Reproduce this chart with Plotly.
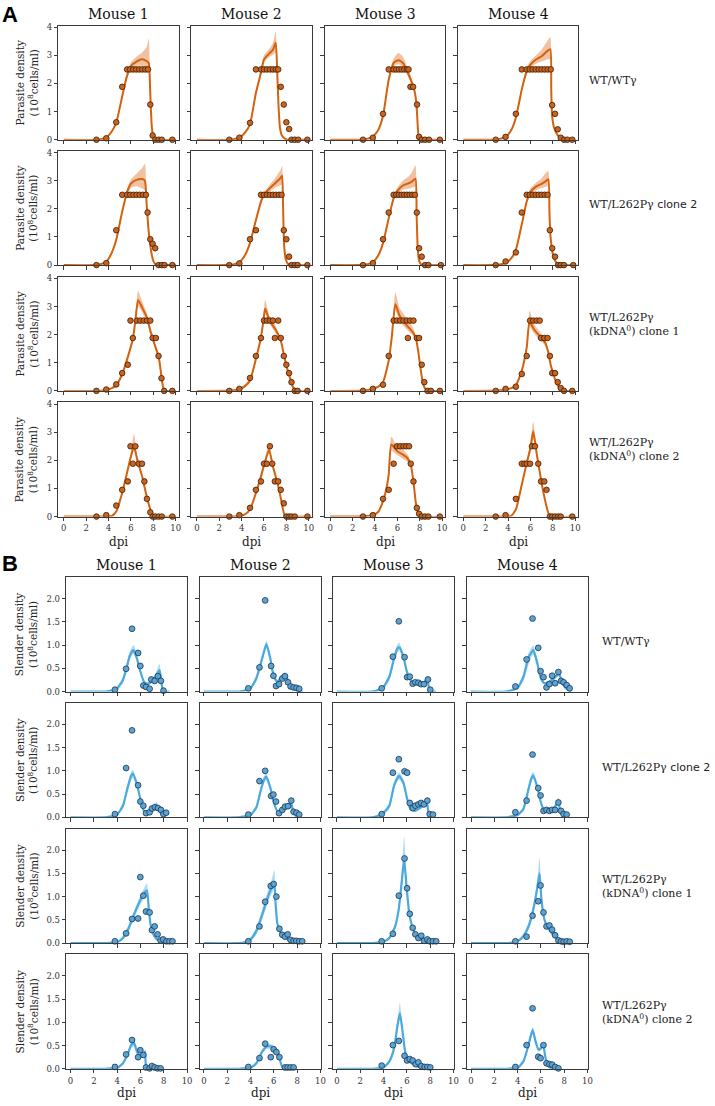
import plotly.graph_objects as go

W, H = 715, 1106

mice = ["Mouse 1", "Mouse 2", "Mouse 3", "Mouse 4"]
row_labels = [
    "WT/WTγ",
    "WT/L262Pγ <span style=\"font-family:'DejaVu Sans'\">clone 2</span>",
    "WT/L262Pγ<br>(kDNA<sup>0</sup>) clone 1",
    "WT/L262Pγ<br>(kDNA<sup>0</sup>) clone 2",
]
x_ticks = [0, 2, 4, 6, 8, 10]
A_y_ticks = [0, 1, 2, 3, 4]
B_y_ticks = [0.0, 0.5, 1.0, 1.5, 2.0]

# ---------------- Panel A: parasite density (observations) ----------------
A_obs_t = [
    [2.92, 3.8, 4.69, 5.22, 5.66, 5.93, 6.2, 6.47, 6.74, 7.01, 7.28, 7.52, 7.73, 7.94, 8.17, 8.47, 8.76, 9.7],
    [2.9, 3.8, 4.75, 5.28, 5.73, 6.0, 6.26, 6.53, 6.8, 7.06, 7.27, 7.5, 7.77, 8.0, 8.25, 8.46, 8.75, 9.05, 9.88],
    [2.93, 3.81, 4.72, 5.23, 5.67, 5.9, 6.14, 6.38, 6.61, 6.85, 7.0, 7.17, 7.41, 7.76, 7.94, 8.18, 8.47, 8.83, 9.8],
    [2.9, 3.78, 4.7, 5.23, 5.67, 5.94, 6.2, 6.47, 6.74, 7.0, 7.27, 7.55, 7.82, 7.94, 8.2, 8.44, 8.71, 9.0, 9.3, 9.74],
    [2.92, 3.8, 4.69, 5.22, 5.66, 5.94, 6.22, 6.5, 6.78, 7.06, 7.34, 7.49, 7.73, 7.94, 8.17, 8.47, 8.76, 9.0, 9.7],
    [2.9, 3.8, 4.75, 5.28, 5.73, 6.0, 6.26, 6.53, 6.8, 7.06, 7.33, 7.57, 7.77, 8.0, 8.24, 8.46, 8.75, 9.0, 9.88],
    [2.93, 3.81, 4.72, 5.23, 5.67, 5.9, 6.14, 6.38, 6.61, 6.85, 7.09, 7.33, 7.56, 7.74, 7.94, 8.18, 8.47, 8.77, 9.89],
    [2.9, 3.78, 4.7, 5.23, 5.67, 5.94, 6.2, 6.47, 6.74, 7.0, 7.27, 7.53, 7.74, 7.95, 8.2, 8.47, 8.71, 9.0, 9.83],
    [2.92, 3.8, 4.69, 5.22, 5.72, 5.96, 6.17, 6.55, 6.84, 7.14, 7.43, 7.73, 7.94, 8.23, 8.47, 8.73, 8.97, 9.7],
    [2.9, 3.8, 4.75, 5.28, 5.73, 6.0, 6.26, 6.53, 6.8, 6.97, 7.27, 7.5, 7.77, 8.0, 8.24, 8.46, 8.75, 9.0, 9.88],
    [2.93, 3.81, 4.72, 5.23, 5.67, 5.96, 6.26, 6.55, 6.85, 6.94, 7.14, 7.44, 7.74, 7.94, 8.18, 8.41, 8.7, 9.0, 9.8],
    [2.9, 3.78, 4.7, 5.23, 5.67, 5.97, 6.26, 6.56, 6.83, 6.95, 7.24, 7.53, 7.74, 7.95, 8.2, 8.44, 8.71, 9.0, 9.74],
    [2.92, 3.8, 4.69, 5.22, 5.72, 5.96, 6.17, 6.4, 6.7, 6.99, 7.2, 7.43, 7.73, 7.94, 8.17, 8.47, 8.76, 9.7],
    [2.9, 3.8, 4.75, 5.28, 5.73, 6.0, 6.26, 6.53, 6.74, 6.97, 7.27, 7.5, 7.77, 8.0, 8.24, 8.46, 8.75, 9.88],
    [2.93, 3.81, 4.72, 5.23, 5.67, 5.96, 6.26, 6.55, 6.79, 7.05, 7.2, 7.44, 7.74, 7.94, 8.18, 8.47, 8.77, 9.8],
    [2.9, 3.78, 4.7, 5.23, 5.47, 5.67, 5.97, 6.14, 6.41, 6.7, 6.95, 7.24, 7.44, 7.74, 7.95, 8.2, 8.47, 8.71, 9.74],
]
A_obs_v = [
    [0, 0.05, 0.62, 1.88, 2.5, 2.5, 2.5, 2.5, 2.5, 2.5, 2.5, 2.5, 1.25, 0.15, 0, 0, 0, 0],
    [0, 0.07, 0.6, 2.5, 2.5, 2.5, 2.5, 2.5, 2.5, 2.5, 2.5, 1.88, 1.25, 0.62, 0.38, 0, 0, 0, 0],
    [0, 0.07, 0.92, 2.5, 2.5, 2.5, 2.5, 2.5, 2.5, 2.5, 2.5, 1.88, 1.88, 1.25, 0.1, 0, 0, 0, 0],
    [0, 0.1, 0.92, 2.5, 2.5, 2.5, 2.5, 2.5, 2.5, 2.5, 2.5, 2.5, 2.5, 1.23, 0.92, 0.37, 0.07, 0, 0, 0],
    [0, 0.07, 1.24, 2.5, 2.5, 2.5, 2.5, 2.5, 2.5, 2.5, 2.5, 1.87, 0.92, 0.76, 0.6, 0, 0, 0, 0],
    [0, 0.06, 0.92, 1.24, 2.5, 2.5, 2.5, 2.5, 2.5, 2.5, 2.5, 2.5, 1.24, 0.92, 0.3, 0, 0, 0, 0],
    [0, 0.07, 0.92, 1.87, 2.5, 2.5, 2.5, 2.5, 2.5, 2.5, 2.5, 2.5, 2.5, 1.87, 0.6, 0.3, 0, 0, 0],
    [0, 0.13, 0.45, 1.87, 2.5, 2.5, 2.5, 2.5, 2.5, 2.5, 2.5, 2.5, 1.24, 0.6, 0.3, 0, 0, 0, 0],
    [0, 0.05, 0.23, 0.63, 0.93, 2.5, 1.88, 2.5, 2.5, 2.5, 2.5, 2.5, 1.88, 1.88, 1.24, 0.45, 0, 0],
    [0, 0.07, 0.46, 1.24, 1.88, 2.5, 2.5, 2.5, 2.5, 1.88, 2.5, 1.88, 1.24, 0.93, 0.63, 0.31, 0, 0, 0],
    [0, 0.07, 0.22, 1.24, 2.5, 2.5, 2.5, 2.5, 2.5, 1.88, 2.5, 2.5, 1.88, 1.88, 0.93, 0.31, 0, 0, 0],
    [0, 0.07, 0.15, 0.6, 1.24, 2.5, 2.5, 2.5, 2.5, 1.88, 1.88, 1.88, 1.24, 0.63, 0.63, 0.31, 0.1, 0, 0],
    [0, 0.05, 0.39, 0.95, 1.25, 2.5, 1.88, 2.5, 1.88, 1.88, 1.25, 0.63, 0.15, 0, 0, 0, 0, 0],
    [0, 0.05, 0.31, 0.95, 1.25, 1.88, 1.88, 2.5, 1.88, 1.25, 1.25, 0.95, 0.47, 0, 0, 0, 0, 0],
    [0, 0.05, 0.63, 0.95, 1.88, 2.5, 2.5, 2.5, 2.5, 2.5, 1.88, 1.25, 0.31, 0.1, 0, 0, 0, 0],
    [0, 0.05, 0.63, 1.88, 1.88, 1.88, 1.88, 2.5, 2.5, 1.88, 1.25, 1.25, 0.95, 0, 0, 0, 0, 0, 0],
]

# ---------------- Panel A: model fit (median and credible band) ----------------
A_fit_t = [
    [0, 3.0, 3.8, 4.3, 4.7, 5.2, 5.6, 6.0, 6.5, 7.0, 7.4, 7.6, 7.7, 7.78, 7.88, 8.0, 8.2, 10],
    [0, 3.0, 3.8, 4.3, 4.75, 5.28, 5.73, 6.0, 6.5, 6.8, 7.05, 7.2, 7.3, 7.42, 7.6, 7.9, 8.2, 10],
    [0, 3.0, 3.8, 4.3, 4.72, 5.23, 5.67, 6.1, 6.5, 7.0, 7.5, 7.7, 7.82, 7.9, 8.0, 8.2, 10],
    [0, 3.0, 3.8, 4.3, 4.7, 5.23, 5.67, 6.0, 6.5, 7.0, 7.5, 7.78, 7.86, 7.93, 8.1, 8.4, 8.8, 9.2, 10],
    [0, 3.0, 3.8, 4.3, 4.69, 5.22, 5.66, 6.0, 6.5, 7.0, 7.25, 7.4, 7.55, 7.7, 7.85, 8.0, 8.2, 10],
    [0, 3.0, 3.8, 4.3, 4.75, 5.28, 5.73, 6.0, 6.5, 7.0, 7.5, 7.62, 7.72, 7.8, 7.95, 8.2, 10],
    [0, 3.0, 3.8, 4.3, 4.72, 5.23, 5.67, 6.0, 6.5, 7.0, 7.3, 7.62, 7.72, 7.82, 7.95, 8.15, 10],
    [0, 3.0, 3.8, 4.3, 4.7, 5.23, 5.67, 6.0, 6.5, 7.0, 7.3, 7.6, 7.7, 7.78, 7.88, 8.0, 8.2, 8.5, 10],
    [0, 3.0, 3.8, 4.3, 4.69, 5.22, 5.72, 6.2, 6.42, 6.64, 7.0, 7.43, 7.73, 8.0, 8.2, 8.47, 8.6, 8.73, 8.88, 9.05, 10],
    [0, 3.0, 3.8, 4.3, 4.75, 5.28, 5.73, 5.95, 6.1, 6.5, 7.0, 7.5, 7.77, 8.0, 8.3, 8.6, 9.0, 10],
    [0, 3.0, 3.8, 4.3, 4.72, 5.23, 5.5, 5.82, 6.2, 6.6, 7.0, 7.4, 7.7, 7.9, 8.1, 8.3, 8.6, 10],
    [0, 3.0, 3.8, 4.3, 4.7, 5.23, 5.67, 5.92, 6.3, 6.8, 7.3, 7.6, 7.8, 8.0, 8.3, 8.6, 9.0, 10],
    [0, 3.0, 4.0, 4.3, 4.7, 5.22, 5.72, 6.0, 6.27, 6.6, 7.0, 7.3, 7.6, 7.9, 8.2, 10],
    [0, 3.0, 3.8, 4.3, 4.75, 5.28, 5.73, 6.1, 6.45, 6.8, 7.2, 7.5, 7.7, 7.85, 8.0, 10],
    [0, 3.0, 3.8, 4.3, 4.72, 5.0, 5.23, 5.46, 6.0, 6.5, 6.9, 7.2, 7.45, 7.65, 7.85, 8.1, 10],
    [0, 3.0, 4.0, 4.3, 4.7, 5.23, 5.67, 6.0, 6.25, 6.6, 7.0, 7.3, 7.6, 7.8, 10],
]
A_fit_mid = [
    [0, 0.0, 0.08, 0.3, 0.62, 1.5, 2.2, 2.62, 2.78, 2.86, 2.8, 2.72, 2.0, 1.1, 0.4, 0.1, 0.0, 0],
    [0, 0, 0.07, 0.25, 0.55, 1.67, 2.38, 2.85, 3.08, 3.2, 3.45, 2.2, 1.2, 0.45, 0.15, 0.03, 0, 0],
    [0, 0.01, 0.1, 0.35, 0.84, 2.14, 2.73, 2.83, 2.73, 2.32, 1.79, 1.3, 0.5, 0.1, 0.02, 0, 0],
    [0, 0.01, 0.1, 0.35, 0.78, 1.79, 2.44, 2.67, 2.85, 2.97, 3.15, 3.22, 1.8, 0.9, 0.45, 0.18, 0.03, 0, 0],
    [0, 0.01, 0.12, 0.45, 0.9, 1.9, 2.6, 2.9, 3.03, 3.06, 3.0, 2.2, 1.35, 0.8, 0.4, 0.15, 0.03, 0],
    [0, 0.01, 0.1, 0.35, 0.78, 1.6, 2.26, 2.5, 2.73, 2.91, 3.11, 3.18, 1.8, 0.7, 0.2, 0.02, 0],
    [0, 0.01, 0.1, 0.35, 0.78, 1.67, 2.38, 2.64, 2.83, 2.91, 2.97, 3.07, 1.8, 0.6, 0.15, 0.02, 0],
    [0, 0.01, 0.08, 0.25, 0.54, 1.45, 2.26, 2.6, 2.79, 2.89, 2.96, 3.05, 1.9, 1.1, 0.7, 0.4, 0.15, 0.02, 0],
    [0, 0.0, 0.03, 0.1, 0.19, 0.6, 1.2, 1.9, 2.6, 3.23, 2.97, 2.6, 2.15, 1.8, 1.55, 1.22, 0.9, 0.5, 0.12, 0.01, 0],
    [0, 0.01, 0.06, 0.17, 0.37, 1.14, 1.9, 2.5, 2.93, 2.5, 2.2, 1.79, 1.31, 0.9, 0.49, 0.13, 0, 0],
    [0, 0.01, 0.07, 0.15, 0.31, 1.08, 1.9, 3.09, 2.67, 2.44, 2.26, 2.08, 1.79, 1.31, 0.72, 0.25, 0.03, 0],
    [0, 0.01, 0.05, 0.1, 0.19, 0.72, 1.55, 2.47, 2.2, 1.96, 1.73, 1.37, 0.95, 0.66, 0.31, 0.1, 0, 0],
    [0, 0, 0.0, 0.02, 0.19, 0.84, 1.67, 2.14, 2.5, 1.96, 1.43, 0.9, 0.43, 0.07, 0, 0],
    [0, 0, 0.02, 0.08, 0.25, 0.84, 1.43, 1.96, 2.38, 1.78, 1.2, 0.66, 0.25, 0.03, 0, 0],
    [0, 0.01, 0.05, 0.17, 0.55, 0.95, 1.5, 2.56, 2.32, 2.2, 2.08, 1.85, 1.2, 0.49, 0.13, 0, 0],
    [0, 0, 0.0, 0.03, 0.25, 1.14, 1.9, 2.44, 3.03, 2.14, 1.2, 0.6, 0.13, 0, 0],
]
A_fit_lo = [
    [0, 0.0, 0.06, 0.26, 0.56, 1.42, 2.1, 2.5, 2.62, 2.62, 2.55, 2.5, 1.8, 1.0, 0.35, 0.08, 0.0, 0],
    [0, 0, 0.05, 0.2, 0.48, 1.58, 2.28, 2.75, 2.95, 3.02, 3.1, 2.0, 1.1, 0.4, 0.12, 0.02, 0, 0],
    [0, 0.01, 0.08, 0.3, 0.76, 2.04, 2.6, 2.68, 2.58, 2.2, 1.7, 1.22, 0.45, 0.08, 0.02, 0, 0],
    [0, 0.01, 0.08, 0.3, 0.7, 1.68, 2.32, 2.55, 2.7, 2.78, 2.85, 2.85, 1.6, 0.8, 0.4, 0.15, 0.02, 0, 0],
    [0, 0.01, 0.1, 0.4, 0.82, 1.8, 2.48, 2.75, 2.8, 2.72, 2.65, 2.0, 1.25, 0.74, 0.36, 0.13, 0.02, 0],
    [0, 0.01, 0.08, 0.3, 0.7, 1.5, 2.16, 2.4, 2.6, 2.75, 2.85, 2.85, 1.6, 0.62, 0.17, 0.02, 0],
    [0, 0.01, 0.08, 0.3, 0.7, 1.57, 2.28, 2.52, 2.68, 2.72, 2.75, 2.78, 1.6, 0.54, 0.13, 0.02, 0],
    [0, 0.01, 0.06, 0.21, 0.48, 1.36, 2.16, 2.48, 2.66, 2.74, 2.78, 2.8, 1.75, 1.0, 0.64, 0.36, 0.13, 0.02, 0],
    [0, 0.0, 0.02, 0.08, 0.16, 0.54, 1.12, 1.8, 2.45, 3.0, 2.8, 2.45, 2.02, 1.7, 1.46, 1.14, 0.84, 0.46, 0.1, 0.01, 0],
    [0, 0.01, 0.04, 0.12, 0.3, 1.04, 1.8, 2.38, 2.75, 2.38, 2.08, 1.7, 1.24, 0.85, 0.45, 0.11, 0, 0],
    [0, 0.01, 0.05, 0.12, 0.26, 1.0, 1.8, 2.85, 2.5, 2.28, 2.12, 1.96, 1.7, 1.24, 0.67, 0.22, 0.02, 0],
    [0, 0.01, 0.04, 0.08, 0.15, 0.64, 1.45, 2.3, 2.05, 1.82, 1.62, 1.3, 0.9, 0.62, 0.28, 0.08, 0, 0],
    [0, 0, 0.0, 0.01, 0.15, 0.77, 1.58, 2.04, 2.35, 1.86, 1.35, 0.84, 0.39, 0.05, 0, 0],
    [0, 0, 0.01, 0.06, 0.21, 0.77, 1.35, 1.87, 2.25, 1.7, 1.13, 0.62, 0.22, 0.02, 0, 0],
    [0, 0.01, 0.04, 0.14, 0.49, 0.88, 1.42, 2.35, 2.18, 2.05, 1.95, 1.75, 1.14, 0.45, 0.11, 0, 0],
    [0, 0, 0.0, 0.02, 0.2, 1.05, 1.8, 2.3, 2.75, 2.0, 1.12, 0.55, 0.11, 0, 0],
]
A_fit_hi = [
    [0, 0.0, 0.1, 0.35, 0.7, 1.6, 2.32, 2.75, 2.95, 3.1, 3.3, 3.6, 2.3, 1.2, 0.45, 0.12, 0.0, 0],
    [0, 0, 0.09, 0.3, 0.62, 1.78, 2.5, 3.0, 3.25, 3.45, 3.85, 2.4, 1.3, 0.5, 0.18, 0.04, 0, 0],
    [0, 0.01, 0.12, 0.42, 0.94, 2.26, 2.88, 3.08, 2.95, 2.48, 1.9, 1.4, 0.55, 0.12, 0.02, 0, 0],
    [0, 0.01, 0.12, 0.4, 0.86, 1.9, 2.56, 2.8, 3.0, 3.2, 3.5, 3.65, 2.0, 1.0, 0.5, 0.21, 0.04, 0, 0],
    [0, 0.01, 0.14, 0.5, 0.98, 2.0, 2.72, 3.05, 3.25, 3.45, 3.6, 2.4, 1.45, 0.86, 0.44, 0.17, 0.04, 0],
    [0, 0.01, 0.12, 0.4, 0.86, 1.7, 2.36, 2.6, 2.85, 3.1, 3.4, 3.55, 2.0, 0.78, 0.23, 0.02, 0],
    [0, 0.01, 0.12, 0.4, 0.86, 1.77, 2.48, 2.76, 3.0, 3.15, 3.3, 3.55, 2.0, 0.66, 0.17, 0.02, 0],
    [0, 0.01, 0.1, 0.3, 0.6, 1.55, 2.36, 2.72, 2.93, 3.08, 3.25, 3.35, 2.05, 1.2, 0.76, 0.44, 0.17, 0.02, 0],
    [0, 0.0, 0.04, 0.13, 0.23, 0.67, 1.28, 2.0, 2.78, 3.55, 3.18, 2.75, 2.28, 1.9, 1.64, 1.3, 0.96, 0.54, 0.14, 0.01, 0],
    [0, 0.01, 0.09, 0.24, 0.46, 1.24, 2.0, 2.65, 3.25, 2.65, 2.35, 1.88, 1.38, 0.95, 0.53, 0.15, 0, 0],
    [0, 0.01, 0.09, 0.19, 0.37, 1.16, 2.02, 3.5, 2.95, 2.72, 2.5, 2.25, 1.9, 1.38, 0.77, 0.28, 0.04, 0],
    [0, 0.01, 0.07, 0.14, 0.25, 0.82, 1.66, 2.85, 2.4, 2.12, 1.86, 1.45, 1.0, 0.7, 0.34, 0.12, 0, 0],
    [0, 0, 0.0, 0.03, 0.23, 0.92, 1.78, 2.3, 2.95, 2.1, 1.52, 0.96, 0.47, 0.09, 0, 0],
    [0, 0, 0.03, 0.1, 0.3, 0.92, 1.52, 2.06, 2.65, 1.88, 1.27, 0.7, 0.28, 0.04, 0, 0],
    [0, 0.01, 0.06, 0.2, 0.6, 1.02, 1.6, 2.85, 2.48, 2.38, 2.22, 1.95, 1.26, 0.53, 0.15, 0, 0],
    [0, 0, 0.0, 0.04, 0.3, 1.23, 2.0, 2.6, 3.38, 2.28, 1.28, 0.65, 0.15, 0, 0],
]

# ---------------- Panel B: slender density (observations) ----------------
B_obs_t = [
    [3.81, 4.77, 5.28, 5.8, 5.99, 6.25, 6.48, 6.79, 6.93, 7.22, 7.5, 7.76, 7.98],
    [3.81, 4.77, 5.26, 5.77, 5.97, 6.19, 6.45, 6.73, 6.96, 7.22, 7.44, 7.7, 7.95, 8.18],
    [3.84, 4.8, 5.31, 5.8, 6.02, 6.25, 6.5, 6.73, 6.99, 7.22, 7.47, 7.81, 8.01],
    [3.81, 4.77, 5.28, 5.77, 5.97, 6.22, 6.48, 6.73, 6.96, 7.22, 7.5, 7.73, 7.95, 8.21, 8.47],
    [3.81, 4.77, 5.28, 5.8, 5.99, 6.25, 6.48, 6.79, 6.99, 7.24, 7.5, 7.76, 7.98, 8.21],
    [3.81, 4.77, 5.26, 5.77, 5.97, 6.19, 6.45, 6.73, 6.96, 7.22, 7.5, 7.7, 7.95, 8.18],
    [3.84, 4.8, 5.31, 5.8, 6.02, 6.25, 6.5, 6.73, 6.99, 7.22, 7.47, 7.76, 7.96, 8.24],
    [3.81, 4.77, 5.28, 5.77, 5.97, 6.22, 6.48, 6.73, 6.96, 7.22, 7.5, 7.73, 7.95, 8.21],
    [3.81, 4.77, 5.28, 5.8, 5.99, 6.25, 6.48, 6.79, 6.99, 7.22, 7.47, 7.73, 7.95, 8.24, 8.49, 8.75],
    [3.81, 4.77, 5.26, 5.74, 5.99, 6.22, 6.48, 6.73, 6.96, 7.19, 7.44, 7.7, 7.93, 8.18, 8.44],
    [3.84, 4.8, 5.31, 5.8, 6.02, 6.25, 6.5, 6.73, 6.99, 7.24, 7.47, 7.76, 7.96, 8.24, 8.52],
    [3.81, 4.77, 5.28, 5.77, 5.97, 6.22, 6.48, 6.73, 6.96, 7.22, 7.5, 7.73, 7.95, 8.21, 8.47],
    [3.81, 4.77, 5.28, 5.8, 5.99, 6.25, 6.48, 6.79, 6.99, 7.22, 7.47, 7.73],
    [3.81, 4.77, 5.26, 5.74, 5.99, 6.22, 6.48, 6.96, 7.19, 7.44, 7.7],
    [3.84, 4.8, 5.31, 5.8, 6.02, 6.25, 6.5, 6.76, 6.99, 7.24, 7.53, 7.76, 8.01],
    [3.81, 4.77, 5.28, 5.77, 5.97, 6.22, 6.48, 6.73, 6.96, 7.22, 7.5],
]
B_obs_v = [
    [0.04, 0.49, 1.35, 0.83, 0.55, 0.13, 0.1, 0.06, 0.26, 0.23, 0.33, 0.23, 0.02],
    [0.07, 0.52, 1.96, 0.55, 0.34, 0.12, 0.16, 0.28, 0.33, 0.2, 0.11, 0.09, 0.08, 0.06],
    [0.07, 0.75, 1.51, 0.74, 0.31, 0.32, 0.17, 0.2, 0.19, 0.16, 0.16, 0.26, 0.04],
    [0.11, 0.69, 1.57, 0.94, 0.44, 0.31, 0.09, 0.16, 0.34, 0.18, 0.42, 0.23, 0.2, 0.14, 0.07],
    [0.07, 1.06, 1.87, 0.69, 0.34, 0.25, 0.09, 0.11, 0.19, 0.22, 0.2, 0.16, 0.07, 0.1],
    [0.06, 0.78, 1.0, 0.46, 0.49, 0.34, 0.09, 0.16, 0.23, 0.24, 0.36, 0.12, 0.1, 0.06],
    [0.07, 0.96, 1.25, 0.99, 0.96, 0.31, 0.2, 0.25, 0.28, 0.31, 0.28, 0.36, 0.07, 0.06],
    [0.11, 0.36, 1.35, 0.63, 0.47, 0.14, 0.16, 0.14, 0.16, 0.16, 0.32, 0.14, 0.07, 0.06],
    [0.04, 0.21, 0.52, 0.53, 1.42, 1.02, 0.68, 0.66, 0.28, 0.36, 0.19, 0.06, 0.08, 0.04, 0.04, 0.04],
    [0.04, 0.36, 0.89, 1.23, 1.27, 1.0, 0.31, 0.18, 0.14, 0.19, 0.07, 0.05, 0.05, 0.04, 0.04],
    [0.04, 0.2, 1.02, 1.82, 1.18, 0.63, 0.33, 0.19, 0.11, 0.16, 0.05, 0.08, 0.04, 0.04, 0.04],
    [0.04, 0.14, 0.59, 0.9, 1.24, 0.66, 0.36, 0.38, 0.29, 0.17, 0.06, 0.04, 0.03, 0.04, 0.03],
    [0.04, 0.31, 0.62, 0.25, 0.4, 0.3, 0.03, 0.01, 0.06, 0.03, 0.01, 0.01],
    [0.04, 0.23, 0.54, 0.25, 0.42, 0.36, 0.25, 0.03, 0.03, 0.03, 0.03],
    [0.07, 0.51, 0.6, 0.28, 0.18, 0.21, 0.18, 0.1, 0.14, 0.06, 0.04, 0.04, 0.03],
    [0.04, 0.51, 1.3, 0.26, 0.23, 0.51, 0.12, 0.1, 0.09, 0.04, 0.01],
]

# ---------------- Panel B: model fit ----------------
B_fit_t = [
    [0, 3.0, 3.5, 4.0, 4.5, 4.8, 5.1, 5.4, 5.7, 6.0, 6.3, 6.6, 6.9, 7.3, 7.64, 7.8, 7.95, 8.5],
    [0, 3.0, 3.5, 4.0, 4.5, 5.0, 5.37, 5.7, 6.0, 6.3, 6.7, 6.95, 7.2, 7.5, 7.9, 8.2, 8.5],
    [0, 3.0, 3.5, 4.0, 4.5, 4.9, 5.2, 5.35, 5.7, 6.0, 6.3, 6.6, 7.0, 7.4, 7.75, 7.85, 7.95, 8.5],
    [0, 3.0, 3.5, 4.0, 4.5, 4.9, 5.2, 5.35, 5.7, 6.0, 6.3, 6.7, 7.1, 7.4, 7.55, 7.75, 8.0, 8.3, 8.6],
    [0, 3.0, 3.5, 4.0, 4.5, 4.9, 5.2, 5.35, 5.7, 6.0, 6.3, 6.6, 7.0, 7.4, 7.6, 7.8, 8.1],
    [0, 3.0, 3.5, 4.0, 4.5, 4.9, 5.2, 5.35, 5.7, 6.0, 6.3, 6.6, 7.0, 7.35, 7.5, 7.65, 7.9, 8.2],
    [0, 3.0, 3.5, 4.0, 4.5, 4.9, 5.2, 5.35, 5.7, 6.0, 6.3, 6.7, 7.1, 7.5, 7.7, 7.8, 7.9, 8.1],
    [0, 3.0, 3.5, 4.0, 4.5, 4.9, 5.2, 5.35, 5.7, 6.0, 6.3, 6.7, 7.0, 7.35, 7.5, 7.65, 7.9, 8.2],
    [0, 3.0, 3.5, 4.0, 4.5, 5.0, 5.5, 6.0, 6.3, 6.56, 6.7, 6.85, 7.0, 7.3, 7.7, 8.2, 8.8],
    [0, 3.0, 3.5, 4.0, 4.5, 5.0, 5.5, 5.8, 6.05, 6.15, 6.3, 6.5, 6.8, 7.2, 7.7, 8.2, 8.5],
    [0, 3.0, 3.5, 4.0, 4.5, 5.0, 5.3, 5.55, 5.77, 5.95, 6.2, 6.5, 6.8, 7.2, 7.7, 8.2, 8.6],
    [0, 3.0, 3.5, 4.0, 4.5, 5.0, 5.4, 5.7, 5.88, 6.05, 6.3, 6.6, 7.0, 7.4, 7.9, 8.4, 8.7],
    [0, 3.0, 3.5, 4.0, 4.5, 4.9, 5.2, 5.45, 5.7, 6.0, 6.3, 6.4, 6.48, 6.7, 7.0],
    [0, 3.0, 3.5, 4.0, 4.5, 5.0, 5.4, 5.8, 6.2, 6.45, 6.6, 6.8, 7.0],
    [0, 3.0, 3.5, 4.0, 4.5, 4.9, 5.2, 5.4, 5.6, 5.85, 6.1, 6.5, 7.0, 7.5, 8.0],
    [0, 3.0, 3.5, 4.0, 4.5, 4.9, 5.15, 5.3, 5.55, 5.8, 6.0, 6.2, 6.35, 6.5, 6.8, 7.2],
]
B_fit_mid = [
    [0, 0.0, 0.02, 0.07, 0.25, 0.5, 0.78, 0.89, 0.71, 0.43, 0.21, 0.16, 0.21, 0.32, 0.46, 0.2, 0.0, 0],
    [0, 0.0, 0.02, 0.07, 0.28, 0.71, 1.02, 0.71, 0.32, 0.21, 0.32, 0.37, 0.25, 0.11, 0.04, 0.0, 0],
    [0, 0.0, 0.03, 0.1, 0.32, 0.71, 0.93, 0.95, 0.75, 0.43, 0.25, 0.18, 0.16, 0.18, 0.27, 0.15, 0.01, 0],
    [0, 0.0, 0.03, 0.08, 0.32, 0.71, 0.85, 0.89, 0.6, 0.28, 0.18, 0.21, 0.28, 0.36, 0.39, 0.25, 0.11, 0.04, 0],
    [0, 0.0, 0.02, 0.06, 0.25, 0.64, 0.89, 0.94, 0.71, 0.39, 0.14, 0.11, 0.18, 0.25, 0.18, 0.06, 0],
    [0, 0.0, 0.02, 0.05, 0.21, 0.6, 0.83, 0.87, 0.64, 0.32, 0.14, 0.14, 0.21, 0.28, 0.3, 0.14, 0.03, 0],
    [0, 0.0, 0.03, 0.1, 0.25, 0.68, 0.85, 0.89, 0.75, 0.43, 0.18, 0.14, 0.2, 0.27, 0.34, 0.2, 0.03, 0],
    [0, 0.0, 0.02, 0.05, 0.18, 0.57, 0.85, 0.9, 0.64, 0.32, 0.14, 0.14, 0.18, 0.28, 0.36, 0.14, 0.03, 0],
    [0, 0.0, 0.01, 0.02, 0.11, 0.33, 0.65, 0.93, 1.07, 1.13, 0.79, 0.43, 0.26, 0.11, 0.04, 0.01, 0],
    [0, 0.0, 0.02, 0.08, 0.26, 0.61, 1.0, 1.18, 1.25, 0.86, 0.43, 0.26, 0.15, 0.08, 0.03, 0.0, 0],
    [0, 0.0, 0.01, 0.03, 0.11, 0.36, 0.72, 1.29, 1.8, 1.29, 0.65, 0.33, 0.19, 0.09, 0.03, 0.0, 0],
    [0, 0.0, 0.01, 0.04, 0.15, 0.4, 0.79, 1.21, 1.5, 0.93, 0.51, 0.33, 0.19, 0.09, 0.03, 0.0, 0],
    [0, 0.0, 0.01, 0.02, 0.12, 0.31, 0.51, 0.56, 0.37, 0.26, 0.28, 0.37, 0.05, 0.0, 0],
    [0, 0.0, 0.01, 0.02, 0.12, 0.37, 0.48, 0.48, 0.41, 0.3, 0.12, 0.01, 0],
    [0, 0.0, 0.01, 0.03, 0.16, 0.44, 0.94, 1.19, 0.87, 0.37, 0.19, 0.1, 0.04, 0.01, 0],
    [0, 0.0, 0.01, 0.02, 0.16, 0.48, 0.73, 0.83, 0.58, 0.41, 0.44, 0.51, 0.3, 0.12, 0.02, 0],
]
B_fit_lo = [
    [0, 0.0, 0.01, 0.04, 0.18, 0.42, 0.7, 0.82, 0.65, 0.38, 0.18, 0.13, 0.17, 0.26, 0.3, 0.15, 0.0, 0],
    [0, 0.0, 0.01, 0.04, 0.21, 0.63, 0.93, 0.65, 0.28, 0.18, 0.27, 0.31, 0.21, 0.09, 0.03, 0, 0],
    [0, 0.0, 0.02, 0.06, 0.24, 0.62, 0.85, 0.88, 0.69, 0.39, 0.22, 0.16, 0.14, 0.16, 0.22, 0.12, 0.01, 0],
    [0, 0.0, 0.01, 0.05, 0.22, 0.55, 0.75, 0.8, 0.54, 0.25, 0.16, 0.18, 0.24, 0.31, 0.33, 0.22, 0.1, 0.03, 0],
    [0, 0.0, 0.01, 0.04, 0.19, 0.56, 0.8, 0.85, 0.65, 0.35, 0.12, 0.09, 0.15, 0.2, 0.15, 0.05, 0],
    [0, 0.0, 0.01, 0.03, 0.16, 0.53, 0.76, 0.8, 0.59, 0.29, 0.12, 0.12, 0.18, 0.24, 0.25, 0.12, 0.02, 0],
    [0, 0.0, 0.02, 0.06, 0.19, 0.6, 0.78, 0.81, 0.69, 0.39, 0.16, 0.12, 0.17, 0.23, 0.28, 0.17, 0.02, 0],
    [0, 0.0, 0.01, 0.03, 0.13, 0.49, 0.77, 0.82, 0.58, 0.29, 0.12, 0.12, 0.15, 0.24, 0.3, 0.12, 0.02, 0],
    [0, 0.0, 0.0, 0.01, 0.07, 0.25, 0.55, 0.83, 0.96, 0.98, 0.7, 0.38, 0.23, 0.1, 0.03, 0.01, 0],
    [0, 0.0, 0.01, 0.05, 0.18, 0.5, 0.88, 1.06, 1.15, 0.8, 0.4, 0.24, 0.13, 0.07, 0.02, 0, 0],
    [0, 0.0, 0.0, 0.02, 0.08, 0.3, 0.63, 1.15, 1.6, 1.15, 0.58, 0.3, 0.17, 0.08, 0.02, 0, 0],
    [0, 0.0, 0.0, 0.02, 0.1, 0.32, 0.68, 1.08, 1.3, 0.84, 0.46, 0.3, 0.17, 0.08, 0.02, 0, 0],
    [0, 0.0, 0.0, 0.01, 0.09, 0.26, 0.45, 0.48, 0.33, 0.23, 0.25, 0.3, 0.04, 0, 0],
    [0, 0.0, 0.0, 0.01, 0.09, 0.32, 0.43, 0.42, 0.37, 0.27, 0.1, 0.01, 0],
    [0, 0.0, 0.0, 0.02, 0.12, 0.38, 0.83, 1.05, 0.78, 0.33, 0.17, 0.09, 0.03, 0.01, 0],
    [0, 0.0, 0.0, 0.01, 0.12, 0.41, 0.65, 0.75, 0.52, 0.37, 0.4, 0.45, 0.27, 0.1, 0.01, 0],
]
B_fit_hi = [
    [0, 0.0, 0.03, 0.1, 0.32, 0.58, 0.87, 1.0, 0.8, 0.48, 0.25, 0.2, 0.26, 0.4, 0.6, 0.25, 0.0, 0],
    [0, 0.0, 0.03, 0.1, 0.35, 0.8, 1.1, 0.78, 0.37, 0.25, 0.37, 0.42, 0.29, 0.13, 0.05, 0, 0],
    [0, 0.0, 0.05, 0.14, 0.4, 0.8, 1.02, 1.05, 0.82, 0.48, 0.28, 0.2, 0.18, 0.21, 0.33, 0.18, 0.01, 0],
    [0, 0.0, 0.05, 0.12, 0.4, 0.8, 0.95, 0.99, 0.68, 0.32, 0.2, 0.24, 0.32, 0.41, 0.46, 0.28, 0.12, 0.05, 0],
    [0, 0.0, 0.03, 0.09, 0.32, 0.73, 0.98, 1.03, 0.78, 0.44, 0.16, 0.13, 0.22, 0.33, 0.22, 0.07, 0],
    [0, 0.0, 0.03, 0.07, 0.27, 0.68, 0.91, 0.95, 0.7, 0.36, 0.16, 0.16, 0.24, 0.32, 0.36, 0.16, 0.04, 0],
    [0, 0.0, 0.05, 0.14, 0.32, 0.76, 0.93, 0.97, 0.82, 0.48, 0.2, 0.16, 0.23, 0.31, 0.4, 0.23, 0.04, 0],
    [0, 0.0, 0.03, 0.07, 0.24, 0.66, 0.94, 0.98, 0.7, 0.36, 0.16, 0.16, 0.21, 0.33, 0.43, 0.16, 0.04, 0],
    [0, 0.0, 0.02, 0.04, 0.16, 0.4, 0.72, 1.03, 1.18, 1.28, 0.88, 0.48, 0.29, 0.12, 0.05, 0.01, 0],
    [0, 0.0, 0.04, 0.12, 0.34, 0.72, 1.13, 1.35, 1.57, 0.95, 0.47, 0.28, 0.17, 0.09, 0.04, 0, 0],
    [0, 0.0, 0.02, 0.05, 0.15, 0.43, 0.82, 1.5, 2.3, 1.45, 0.72, 0.37, 0.21, 0.1, 0.04, 0, 0],
    [0, 0.0, 0.02, 0.06, 0.2, 0.49, 0.9, 1.38, 1.85, 1.04, 0.56, 0.36, 0.21, 0.1, 0.04, 0, 0],
    [0, 0.0, 0.02, 0.03, 0.15, 0.36, 0.56, 0.6, 0.41, 0.29, 0.32, 0.44, 0.06, 0, 0],
    [0, 0.0, 0.02, 0.03, 0.15, 0.42, 0.53, 0.53, 0.46, 0.34, 0.14, 0.02, 0],
    [0, 0.0, 0.02, 0.04, 0.2, 0.5, 1.06, 1.42, 0.97, 0.41, 0.21, 0.11, 0.05, 0.01, 0],
    [0, 0.0, 0.02, 0.03, 0.2, 0.55, 0.81, 0.9, 0.64, 0.45, 0.48, 0.57, 0.33, 0.14, 0.03, 0],
]

# ---------------- styling ----------------
SERIF = "DejaVu Serif"
ORANGE_LINE = "#d4620f"
ORANGE_BAND = "rgba(222,110,30,0.42)"
ORANGE_MK = "#c8641f"
ORANGE_EDGE = "#3d1d05"
BLUE_LINE = "#4aa9de"
BLUE_BAND = "rgba(86,176,228,0.45)"
BLUE_MK = "#5aa3d2"
BLUE_EDGE = "#1a3550"
AXC = "#3a3a3a"

panels = [
    dict(name="A", obs_t=A_obs_t, obs_v=A_obs_v, ft=A_fit_t, fm=A_fit_mid, fl=A_fit_lo, fh=A_fit_hi,
         lefts=[58.7, 192.7, 327.0, 461.0], w=121.5, tops=[22.7, 149.0, 275.7, 402.3], h=115.0,
         xr=[-0.49, 10.29], yr=[0, 4.06], yt=A_y_ticks, yfmt="", line=ORANGE_LINE, band=ORANGE_BAND,
         mk=ORANGE_MK, edge=ORANGE_EDGE, msize=5.6, lw=2.0,
         ytitle="Parasite density<br>(10<sup>8</sup>cells/ml)", title_y=11.5, dpi_y=543,
         label_x=591, label_y=[77.7, 203, 324, 450], letter_y=12),
    dict(name="B", obs_t=B_obs_t, obs_v=B_obs_v, ft=B_fit_t, fm=B_fit_mid, fl=B_fit_lo, fh=B_fit_hi,
         lefts=[66.7, 201.0, 335.0, 470.0], w=122.0, tops=[578.3, 705.0, 831.7, 958.3], h=115.3,
         xr=[-0.37, 10.03], yr=[0, 2.46], yt=B_y_ticks, yfmt=".1f", line=BLUE_LINE, band=BLUE_BAND,
         mk=BLUE_MK, edge=BLUE_EDGE, msize=5.8, lw=2.2,
         ytitle="Slender density<br>(10<sup>8</sup>cells/ml)", title_y=566.5, dpi_y=1098,
         label_x=604, label_y=[643.3, 770, 889.5, 1016.5], letter_y=565),
]

fig = go.Figure()
layout = {}
annotations = []
k = 0
for P in panels:
    for r in range(4):
        for c in range(4):
            k += 1
            i = r * 4 + c
            xs = "x" if k == 1 else f"x{k}"
            ys = "y" if k == 1 else f"y{k}"
            xk = "xaxis" if k == 1 else f"xaxis{k}"
            yk = "yaxis" if k == 1 else f"yaxis{k}"
            L = P["lefts"][c]
            T = P["tops"][r]
            layout[xk] = dict(
                domain=[L / W, (L + P["w"]) / W], anchor=ys, range=P["xr"],
                tickvals=x_ticks, showticklabels=(r == 3), ticks="outside", ticklen=3.5,
                tickwidth=1, tickcolor=AXC, showline=True, linecolor=AXC, linewidth=1,
                mirror=True, showgrid=False, zeroline=False,
                tickfont=dict(family=SERIF, size=8.5, color="#333"),
            )
            layout[yk] = dict(
                domain=[1 - (T + P["h"]) / H, 1 - T / H], anchor=xs, range=P["yr"],
                tickvals=P["yt"], tickformat=P["yfmt"], showticklabels=(c == 0),
                ticks="outside", ticklen=3.5, tickwidth=1, tickcolor=AXC, showline=True,
                linecolor=AXC, linewidth=1, mirror=True, showgrid=False, zeroline=False,
                tickfont=dict(family=SERIF, size=8.5, color="#333"),
            )
            t = P["ft"][i]
            fig.add_trace(go.Scatter(x=t, y=P["fl"][i], xaxis=xs, yaxis=ys, mode="lines",
                                     line=dict(width=0, shape="spline", smoothing=0.5),
                                     showlegend=False, hoverinfo="skip"))
            fig.add_trace(go.Scatter(x=t, y=P["fh"][i], xaxis=xs, yaxis=ys, mode="lines",
                                     line=dict(width=0, shape="spline", smoothing=0.5),
                                     fill="tonexty", fillcolor=P["band"],
                                     showlegend=False, hoverinfo="skip"))
            fig.add_trace(go.Scatter(x=t, y=P["fm"][i], xaxis=xs, yaxis=ys, mode="lines",
                                     line=dict(width=P["lw"], color=P["line"], shape="spline",
                                               smoothing=0.5),
                                     showlegend=False))
            fig.add_trace(go.Scatter(x=P["obs_t"][i], y=P["obs_v"][i], xaxis=xs, yaxis=ys,
                                     mode="markers", cliponaxis=False,
                                     marker=dict(size=P["msize"], color=P["mk"],
                                                 line=dict(color=P["edge"], width=0.8)),
                                     showlegend=False))
        annotations.append(dict(text=P["ytitle"], x=27 / W, y=1 - (P["tops"][r] + P["h"] / 2) / H,
                                xref="paper", yref="paper", textangle=-90, showarrow=False,
                                xanchor="center", yanchor="middle",
                                font=dict(family=SERIF, size=10.5, color="#222")))
        annotations.append(dict(text=row_labels[r], x=P["label_x"] / W, y=1 - P["label_y"][r] / H,
                                xref="paper", yref="paper", showarrow=False, align="left",
                                xanchor="left", yanchor="middle",
                                font=dict(family=SERIF, size=11, color="#222")))
    for c in range(4):
        cx = (P["lefts"][c] + P["w"] / 2) / W
        annotations.append(dict(text=mice[c], x=cx, y=1 - P["title_y"] / H, xref="paper",
                                yref="paper", showarrow=False, xanchor="center", yanchor="middle",
                                font=dict(family=SERIF, size=14, color="#111")))
        annotations.append(dict(text="dpi", x=cx, y=1 - P["dpi_y"] / H, xref="paper",
                                yref="paper", showarrow=False, xanchor="center", yanchor="middle",
                                font=dict(family=SERIF, size=12, color="#222")))
    annotations.append(dict(text="<b>" + P["name"] + "</b>", x=0.5 / W, y=1 - P["letter_y"] / H,
                            xref="paper", yref="paper", showarrow=False, xanchor="left",
                            yanchor="middle",
                            font=dict(family="Liberation Sans", size=22, color="#000")))

fig.update_layout(**layout)
fig.update_layout(width=W, height=H, margin=dict(l=0, r=0, t=0, b=0),
                  paper_bgcolor="white", plot_bgcolor="white",
                  annotations=annotations, showlegend=False, hovermode=False)
fig.write_html(
    "out.html",
    config={"displayModeBar": False, "staticPlot": True},
    post_script="document.body.style.margin='0px';document.body.style.overflow='hidden';"
                "document.documentElement.style.overflow='hidden';",
)
